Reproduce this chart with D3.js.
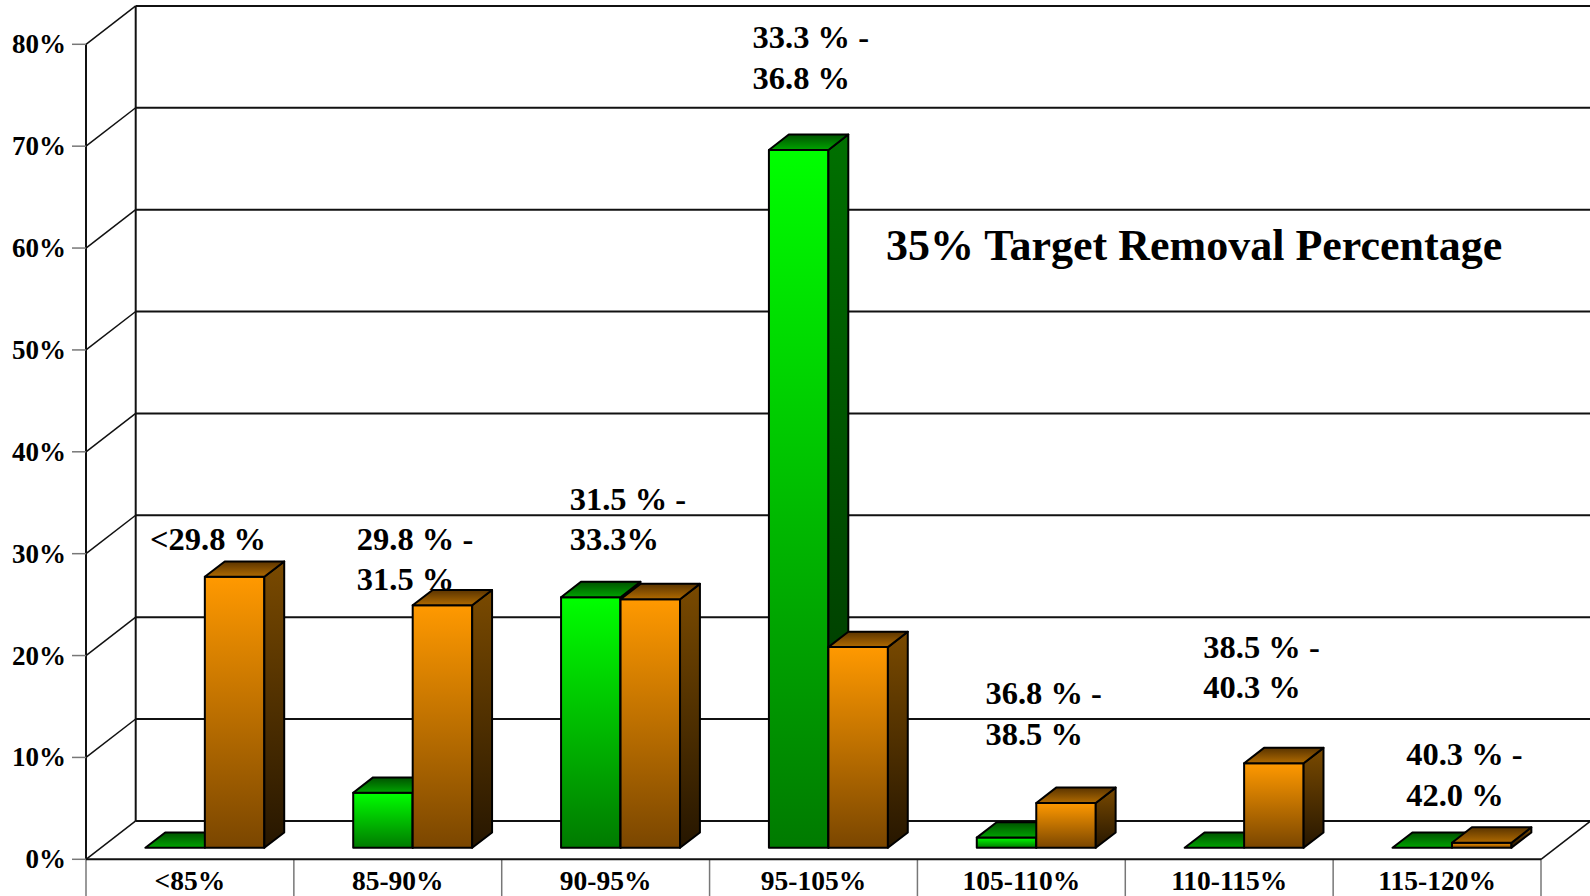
<!DOCTYPE html>
<html>
<head>
<meta charset="utf-8">
<script src="https://cdn.jsdelivr.net/npm/d3@7"></script>
<style>
    body { margin: 0; background: #fff; }
    svg { display: block; }
    text { font-family: 'Liberation Serif', 'Times New Roman', serif; font-weight: bold; fill: #000; }
</style>
</head>
<body>
<svg id="chart"></svg>
<script>
const categories = ['<85%', '85-90%', '90-95%', '95-105%', '105-110%', '110-115%', '115-120%'];
const greenValues = [0, 5.4, 24.6, 68.5, 1.0, 0, 0];
const orangeValues = [26.6, 23.8, 24.4, 19.7, 4.4, 8.3, 0.5];
const rangeLabels = [
    ['<29.8 %'],
    ['29.8 % -', '31.5 %'],
    ['31.5 % -', '33.3%'],
    ['33.3 % -', '36.8 %'],
    ['36.8 % -', '38.5 %'],
    ['38.5 % -', '40.3 %'],
    ['40.3 % -', '42.0 %'],
];
const yTicks = [0, 10, 20, 30, 40, 50, 60, 70, 80];
const chartTitle = '35% Target Removal Percentage';

// where each range note sits: x offset from its band start, baseline in axis units
const noteSpots = [[64, 30.4], [63, 30.4], [68, 34.3], [43, 79.6], [68, 15.2], [78, 19.8], [73, 9.25]];

const width = 1590;
const height = 896;
const depth = { dx: 49.7, dy: 38.4 };
const barFrom = 0.3; // bars sit between 30% and 70% of the floor depth
const barDepth = 0.4;

const svg = d3.select('#chart').attr('width', width).attr('height', height);

const x0 = d3.scaleBand().domain(categories).range([86, 1541]);
const x1 = d3
    .scaleBand()
    .domain(['green', 'orange'])
    .range([0, x0.bandwidth()])
    .paddingOuter(0.747);
const y = d3.scaleLinear().domain([0, 80]).range([859.3, 44.3]);

const [left, right] = x0.range();

// gradients
const defs = svg.append('defs');
function grad(id, c1, c2) {
    const g = defs
        .append('linearGradient')
        .attr('id', id)
        .attr('x1', 0)
        .attr('y1', 0)
        .attr('x2', 0)
        .attr('y2', 1);
    g.append('stop').attr('offset', 0).attr('stop-color', c1);
    g.append('stop').attr('offset', 1).attr('stop-color', c2);
}
grad('greenFront', '#00ff00', '#007a00');
grad('greenSide', '#007000', '#003000');
grad('greenTop', '#005200', '#00a400');
grad('orangeFront', '#ff9900', '#7a4600');
grad('orangeSide', '#7a4a00', '#261600');
grad('orangeTop', '#5a3400', '#b06a00');

// walls and grid
const walls = svg.append('g');
walls
    .selectAll('line.grid')
    .data(yTicks)
    .join('line')
    .attr('class', 'grid')
    .attr('x1', left + depth.dx)
    .attr('x2', right + depth.dx)
    .attr('y1', d => y(d) - depth.dy)
    .attr('y2', d => y(d) - depth.dy)
    .attr('stroke', '#111')
    .attr('stroke-width', 2);

walls
    .selectAll('line.side')
    .data(yTicks)
    .join('line')
    .attr('class', 'side')
    .attr('x1', left)
    .attr('y1', d => y(d))
    .attr('x2', left + depth.dx)
    .attr('y2', d => y(d) - depth.dy)
    .attr('stroke', '#111')
    .attr('stroke-width', 1.5);

walls
    .append('line')
    .attr('x1', left + depth.dx)
    .attr('x2', left + depth.dx)
    .attr('y1', y(80) - depth.dy)
    .attr('y2', y(0) - depth.dy)
    .attr('stroke', '#111')
    .attr('stroke-width', 2);

// category dividers below the floor
walls
    .selectAll('line.div')
    .data(categories.map(c => x0(c)).concat([right]))
    .join('line')
    .attr('class', 'div')
    .attr('x1', d => d)
    .attr('x2', d => d)
    .attr('y1', y(0))
    .attr('y2', height)
    .attr('stroke', '#777')
    .attr('stroke-width', 1.5);

// floor front edge and right edge
walls
    .append('line')
    .attr('x1', left)
    .attr('x2', right)
    .attr('y1', y(0))
    .attr('y2', y(0))
    .attr('stroke', '#111')
    .attr('stroke-width', 2);
walls
    .append('line')
    .attr('x1', right)
    .attr('y1', y(0))
    .attr('x2', right + depth.dx)
    .attr('y2', y(0) - depth.dy)
    .attr('stroke', '#111')
    .attr('stroke-width', 1.5);

// value axis
walls
    .append('line')
    .attr('x1', left)
    .attr('x2', left)
    .attr('y1', y(80))
    .attr('y2', y(0))
    .attr('stroke', '#111')
    .attr('stroke-width', 2);
walls
    .selectAll('line.tick')
    .data(yTicks)
    .join('line')
    .attr('class', 'tick')
    .attr('x1', left - 14)
    .attr('x2', left)
    .attr('y1', d => y(d))
    .attr('y2', d => y(d))
    .attr('stroke', '#777')
    .attr('stroke-width', 1.5);
walls
    .selectAll('text.ylab')
    .data(yTicks)
    .join('text')
    .attr('class', 'ylab')
    .attr('x', left - 20)
    .attr('y', d => y(d) + 9)
    .attr('text-anchor', 'end')
    .attr('font-size', 27)
    .text(d => d + '%');

walls
    .selectAll('text.xlab')
    .data(categories)
    .join('text')
    .attr('class', 'xlab')
    .attr('x', d => x0(d) + x0.bandwidth() / 2)
    .attr('y', 890)
    .attr('text-anchor', 'middle')
    .attr('font-size', 27.5)
    .text(d => d);

// bars, drawn left to right so each bar hides its neighbour's side
const bars = [];
categories.forEach((c, i) => {
    bars.push({ cat: c, series: 'green', value: greenValues[i] });
    bars.push({ cat: c, series: 'orange', value: orangeValues[i] });
});

const bdx = depth.dx * barDepth;
const bdy = depth.dy * barDepth;
const shiftX = depth.dx * barFrom;
const shiftY = depth.dy * barFrom;

const barG = svg
    .append('g')
    .selectAll('g')
    .data(bars)
    .join('g')
    .attr('stroke', '#000')
    .attr('stroke-width', 2)
    .attr('stroke-linejoin', 'round');

barG.each(function (d) {
    const g = d3.select(this);
    const x = x0(d.cat) + x1(d.series) + shiftX;
    const w = x1.bandwidth();
    const yb = y(0) - shiftY;
    const yt = y(d.value) - shiftY;
    if (d.value > 0) {
        g.append('rect')
            .attr('x', x)
            .attr('y', yt)
            .attr('width', w)
            .attr('height', yb - yt)
            .attr('fill', `url(#${d.series}Front)`);
        g.append('polygon')
            .attr('points', [
                [x + w, yt],
                [x + w + bdx, yt - bdy],
                [x + w + bdx, yb - bdy],
                [x + w, yb],
            ].join(' '))
            .attr('fill', `url(#${d.series}Side)`);
    }
    g.append('polygon')
        .attr('points', [
            [x, yt],
            [x + bdx, yt - bdy],
            [x + w + bdx, yt - bdy],
            [x + w, yt],
        ].join(' '))
        .attr('fill', `url(#${d.series}Top)`);
});

// range notes
svg.append('g')
    .selectAll('text')
    .data(rangeLabels)
    .join('text')
    .attr('font-size', 32.5)
    .each(function (lines, i) {
        const t = d3.select(this);
        const [ox, v] = noteSpots[i];
        const px = x0(categories[i]) + ox;
        lines.forEach((ln, k) => {
            t.append('tspan')
                .attr('x', px)
                .attr('y', y(v) + k * 40.6)
                .text(ln);
        });
    });

svg.append('text')
    .attr('x', 886)
    .attr('y', 260)
    .attr('font-size', 44)
    .text(chartTitle);
</script>
</body>
</html>
